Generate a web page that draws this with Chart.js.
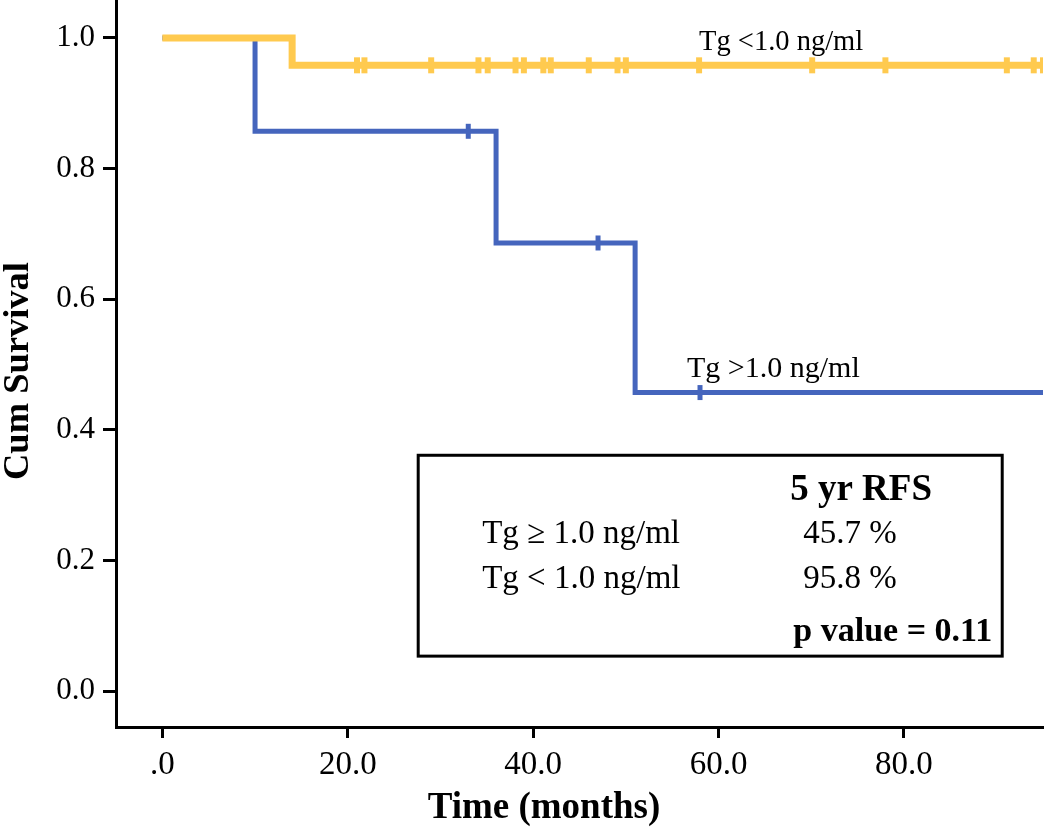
<!DOCTYPE html>
<html>
<head>
<meta charset="utf-8">
<script src="https://cdn.jsdelivr.net/npm/chart.js@4.4.1/dist/chart.umd.min.js"></script>
<style>
    html, body { margin: 0; padding: 0; background: #fff; }
    #wrap { width: 1050px; height: 829px; }
</style>
</head>
<body>
<div id="wrap"><canvas id="kmChart"></canvas></div>
<script>
// Kaplan-Meier steps (time in months, cumulative survival)
const lowTimes = [0, 14, 95];
const lowSurv = [1.0, 0.958, 0.958];
const lowCensored = [21, 21.8, 29, 34.1, 35.1, 38.1, 39, 41.1, 41.9, 46, 49.1, 50, 57.9, 70.1, 78, 91.1, 94, 95];

const highTimes = [0, 10, 36, 51, 95];
const highSurv = [1.0, 0.857, 0.686, 0.457, 0.457];
const highCensored = [33, 47, 58];

const xTicks = [0, 20, 40, 60, 80];
const yTicks = [0, 0.2, 0.4, 0.6, 0.8, 1.0];

const lowLabel = 'Tg <1.0 ng/ml';
const highLabel = 'Tg >1.0 ng/ml';
const tableHeader = '5 yr RFS';
const tableRows = [['Tg \u2265 1.0 ng/ml', '45.7 %'], ['Tg < 1.0 ng/ml', '95.8 %']];
const pValueText = 'p value = 0.11';

const YELLOW = '#FFCA4F';
const BLUE = '#4565BD';
const SERIF = '"Liberation Serif", "Times New Roman", serif';

function stepPoints(times, surv) {
    return times.map((t, i) => ({ x: t, y: surv[i] }));
}

// survival value of a step curve at time t
function survAt(times, surv, t) {
    let v = surv[0];
    for (let i = 0; i < times.length; i++) {
        if (times[i] <= t) v = surv[i];
    }
    return v;
}

function censorPoints(censored, times, surv) {
    return censored.map(t => ({ x: t, y: survAt(times, surv, t) }));
}

function noPadding(scale) {
    scale.paddingTop = 0;
    scale.paddingBottom = 0;
    scale.paddingLeft = 0;
    scale.paddingRight = 0;
}

const overlayPlugin = {
    id: 'overlay',
    afterDraw(chart) {
        const ctx = chart.ctx;
        const xs = chart.scales.x;
        const ys = chart.scales.y;
        ctx.save();
        ctx.fillStyle = '#000';
        ctx.textBaseline = 'alphabetic';

        // curve labels
        ctx.font = '28.5px ' + SERIF;
        ctx.textAlign = 'left';
        ctx.fillText(lowLabel, xs.getPixelForValue(57.9), ys.getPixelForValue(0.981));
        ctx.font = '30px ' + SERIF;
        ctx.fillText(highLabel, xs.getPixelForValue(56.6), ys.getPixelForValue(0.481));

        // summary box
        const bx0 = xs.getPixelForValue(27.6), bx1 = xs.getPixelForValue(90.6);
        const by0 = ys.getPixelForValue(0.361), by1 = ys.getPixelForValue(0.0535);
        ctx.lineWidth = 3;
        ctx.strokeStyle = '#000';
        ctx.strokeRect(bx0, by0, bx1 - bx0, by1 - by0);

        ctx.font = 'bold 37px ' + SERIF;
        ctx.fillText(tableHeader, bx0 + 372, by0 + 45);
        ctx.font = '33px ' + SERIF;
        tableRows.forEach((row, i) => {
            const y = by0 + 88 + i * 45;
            ctx.fillText(row[0], bx0 + 64, y);
            ctx.fillText(row[1], bx0 + 385, y);
        });
        ctx.font = 'bold 34px ' + SERIF;
        ctx.textAlign = 'right';
        ctx.fillText(pValueText, bx1 - 10, by1 - 15);

        // axis titles
        ctx.font = 'bold 37px ' + SERIF;
        ctx.textAlign = 'center';
        ctx.fillText('Time (months)', 544, 818);
        ctx.translate(28, 371);
        ctx.rotate(-Math.PI / 2);
        ctx.font = 'bold 36.5px ' + SERIF;
        ctx.fillText('Cum Survival', 0, 0);
        ctx.restore();
    }
};

const ctx = document.getElementById('kmChart').getContext('2d');
new Chart(ctx, {
    type: 'line',
    data: {
        datasets: [
            {
                label: lowLabel,
                data: stepPoints(lowTimes, lowSurv),
                borderColor: YELLOW,
                borderWidth: 7,
                stepped: 'before',
                pointRadius: 0,
                fill: false
            },
            {
                label: lowLabel + ' censored',
                type: 'scatter',
                data: censorPoints(lowCensored, lowTimes, lowSurv),
                pointStyle: 'line',
                rotation: 90,
                radius: 8,
                borderWidth: 6,
                borderColor: YELLOW,
                backgroundColor: YELLOW
            },
            {
                label: highLabel,
                data: stepPoints(highTimes, highSurv),
                borderColor: BLUE,
                borderWidth: 5,
                stepped: 'before',
                pointRadius: 0,
                fill: false
            },
            {
                label: highLabel + ' censored',
                type: 'scatter',
                data: censorPoints(highCensored, highTimes, highSurv),
                pointStyle: 'line',
                rotation: 90,
                radius: 7.5,
                borderWidth: 5,
                borderColor: BLUE,
                backgroundColor: BLUE
            }
        ]
    },
    options: {
        responsive: true,
        maintainAspectRatio: false,
        animation: false,
        layout: { autoPadding: false, padding: { left: 0, right: 7, top: 0, bottom: 0 } },
        plugins: {
            legend: { display: false },
            tooltip: { enabled: false }
        },
        scales: {
            x: {
                type: 'linear',
                min: -5,
                max: 95,
                afterBuildTicks: scale => { scale.ticks = xTicks.map(v => ({ value: v })); },
                afterFit: scale => { scale.height = 102; noPadding(scale); },
                grid: { drawOnChartArea: false, tickLength: 11, tickWidth: 3, tickColor: '#000' },
                border: { display: true, color: '#000', width: 3 },
                ticks: {
                    color: '#000',
                    padding: 8,
                    font: { family: SERIF, size: 33 },
                    callback: v => v === 0 ? '.0' : v.toFixed(1)
                }
            },
            y: {
                type: 'linear',
                min: -0.055,
                max: 1.058,
                afterBuildTicks: scale => { scale.ticks = yTicks.map(v => ({ value: v })); },
                afterFit: scale => { scale.width = 116; noPadding(scale); },
                grid: { drawOnChartArea: false, tickLength: 13, tickWidth: 3, tickColor: '#000' },
                border: { display: true, color: '#000', width: 3 },
                ticks: {
                    color: '#000',
                    padding: 8,
                    font: { family: SERIF, size: 31 },
                    callback: v => v.toFixed(1)
                }
            }
        }
    },
    plugins: [overlayPlugin]
});
</script>
</body>
</html>
